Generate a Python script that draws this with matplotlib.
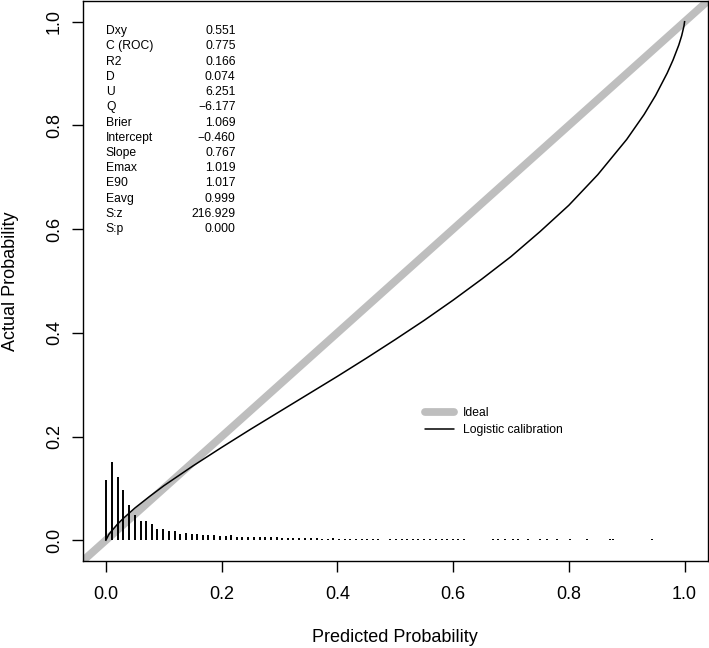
import matplotlib
matplotlib.use('Agg')
from matplotlib import pyplot as plt

plt.rcParams['font.family'] = ['Liberation Sans', 'DejaVu Sans']

# calibration statistics shown in the top-left corner
stat_names = ['Dxy', 'C (ROC)', 'R2', 'D', 'U', 'Q', 'Brier', 'Intercept',
              'Slope', 'Emax', 'E90', 'Eavg', 'S:z', 'S:p']
stat_values = ['0.551', '0.775', '0.166', '0.074', '6.251', '\u22126.177', '1.069',
               '\u22120.460', '0.767', '1.019', '1.017', '0.999', '216.929', '0.000']

# logistic calibration curve
curve_x = [0.0, 0.005, 0.01, 0.02, 0.03, 0.05, 0.075, 0.1, 0.15, 0.2, 0.25, 0.3,
           0.35, 0.4, 0.45, 0.5, 0.55, 0.6, 0.65, 0.7, 0.75, 0.8, 0.85, 0.9,
           0.93, 0.95, 0.97, 0.98, 0.99, 0.995, 0.999, 1.0]
curve_y = [0.0, 0.011, 0.018, 0.031, 0.042, 0.062, 0.084, 0.105, 0.143, 0.179, 0.214, 0.248,
           0.282, 0.316, 0.351, 0.387, 0.424, 0.463, 0.504, 0.547, 0.595, 0.646, 0.705, 0.773,
           0.821, 0.858, 0.901, 0.926, 0.955, 0.973, 0.992, 1.0]

# spike histogram of predicted probabilities
spike_x = [0.001, 0.011, 0.021, 0.030, 0.040, 0.050, 0.060, 0.070, 0.079, 0.089,
           0.099, 0.109, 0.119, 0.128, 0.138, 0.148, 0.158, 0.168, 0.177, 0.187,
           0.197, 0.207, 0.217, 0.226, 0.236, 0.246, 0.256, 0.266, 0.275, 0.285,
           0.295, 0.305, 0.315, 0.324, 0.334, 0.344, 0.354, 0.364, 0.373, 0.383,
           0.393, 0.403, 0.413, 0.422, 0.432, 0.442, 0.452, 0.462, 0.471,
           0.491, 0.501, 0.511, 0.520, 0.530, 0.540, 0.550,
           0.560, 0.570, 0.580, 0.590, 0.599, 0.609, 0.619,
           0.669, 0.677, 0.690, 0.703, 0.712, 0.729, 0.750, 0.762, 0.779,
           0.802, 0.831, 0.871, 0.877, 0.943]
spike_h = [0.117, 0.151, 0.122, 0.096, 0.068, 0.049, 0.038, 0.038, 0.032, 0.022,
           0.022, 0.018, 0.018, 0.012, 0.013, 0.012, 0.012, 0.010, 0.010, 0.010,
           0.009, 0.009, 0.010, 0.007, 0.007, 0.007, 0.006, 0.006, 0.007, 0.006,
           0.006, 0.005, 0.005, 0.004, 0.004, 0.005, 0.004, 0.004, 0.003, 0.003,
           0.004, 0.003, 0.003, 0.003, 0.003, 0.003, 0.003, 0.003, 0.003,
           0.003, 0.003, 0.003, 0.003, 0.003, 0.003, 0.003,
           0.003, 0.003, 0.003, 0.003, 0.003, 0.003, 0.003,
           0.003, 0.003, 0.003, 0.003, 0.003, 0.003, 0.003, 0.003, 0.003,
           0.003, 0.003, 0.003, 0.003, 0.003]

ticks = [0.0, 0.2, 0.4, 0.6, 0.8, 1.0]
tick_labels = ['0.0', '0.2', '0.4', '0.6', '0.8', '1.0']

fig = plt.figure(figsize=(7.09, 6.48), dpi=100)
ax = fig.add_axes([0.1167, 0.1343, 0.8815, 0.8642])

ax.axline((0, 0), slope=1, color='#bebebe', lw=5.6, label='Ideal', zorder=1)
ax.plot(curve_x, curve_y, color='black', lw=1.1, label='Logistic calibration', zorder=3)
ax.vlines(spike_x, 0, spike_h, colors='black', lw=1.4, zorder=2)

ax.set_xlim(-0.04, 1.04)
ax.set_ylim(-0.04, 1.04)
ax.set_xticks(ticks)
ax.set_xticklabels(tick_labels)
ax.set_yticks(ticks)
ax.set_yticklabels(tick_labels, rotation=90, va='center')
ax.tick_params(axis='both', labelsize=13, length=7.7, width=1.0, direction='out')
ax.tick_params(axis='x', pad=10)
ax.tick_params(axis='y', pad=6.5)
for s in ax.spines.values():
    s.set_linewidth(1.0)

ax.set_xlabel('Predicted Probability', fontsize=13, va='center')
ax.xaxis.set_label_coords(0.5, -0.1375)
ax.set_ylabel('Actual Probability', fontsize=13, va='center')
ax.yaxis.set_label_coords(-0.116, 0.5)

# statistics block
for i, (nm, val) in enumerate(zip(stat_names, stat_values)):
    yy = 0.982 - i * 0.0294
    ax.text(0.0, yy, nm, fontsize=8.7, ha='left', va='center')
    ax.text(0.224, yy, val, fontsize=8.7, ha='right', va='center')

leg = ax.legend(loc='upper left', bbox_to_anchor=(0.548, 0.275), frameon=False,
                fontsize=8.7, handlelength=2.35, handletextpad=0.8,
                labelspacing=0.4, borderpad=0, borderaxespad=0)
for h in leg.get_lines():
    h.set_solid_capstyle('round')

fig.savefig('out.png', dpi=100)
